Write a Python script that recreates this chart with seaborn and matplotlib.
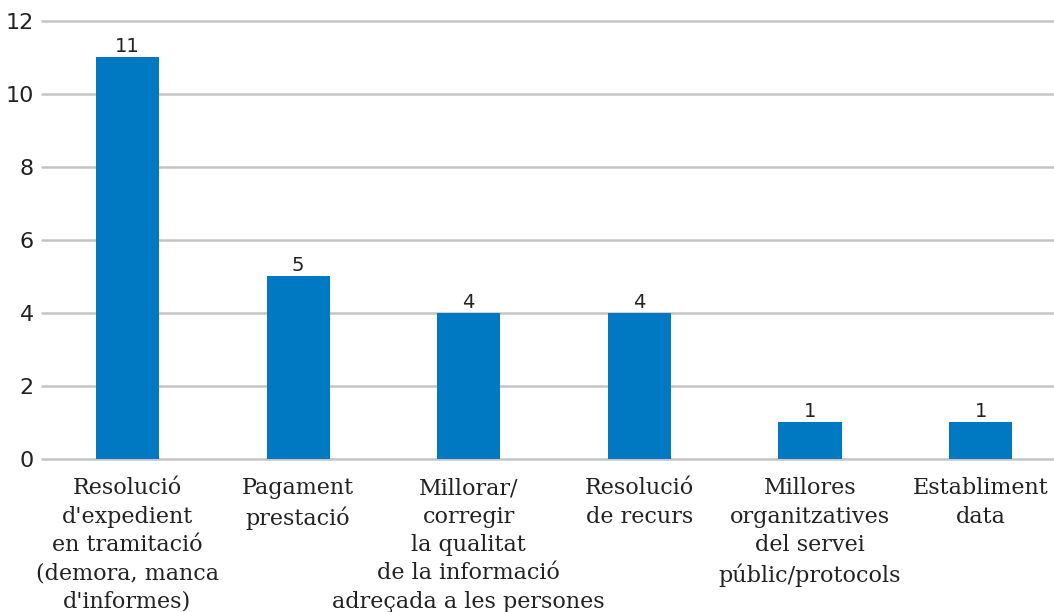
import matplotlib
matplotlib.use('Agg')
import matplotlib.pyplot as plt
import seaborn as sns
import pandas as pd

# dades
categories = [
    "Resolució\nd'expedient\nen tramitació\n(demora, manca\nd'informes)",
    "Pagament\nprestació",
    "Millorar/\ncorregir\nla qualitat\nde la informació\nadreçada a les persones",
    "Resolució\nde recurs",
    "Millores\norganitzatives\ndel servei\npúblic/protocols",
    "Establiment\ndata",
]
values = [11, 5, 4, 4, 1, 1]

df = pd.DataFrame({'categoria': categories, 'valor': values})

sns.set_style('white')
plt.rcParams['font.family'] = ['DejaVu Sans']

fig = plt.figure(figsize=(10.54, 6.12), dpi=100)
ax = fig.add_axes([0.04, 0.25, 0.96, 0.7157])

sns.barplot(data=df, x='categoria', y='valor', color='#0079c2', width=0.37,
            saturation=1, linewidth=0, ax=ax, zorder=3)

ax.set_ylim(0, 12)
ax.set_xlim(-0.5, 5.43)
ax.set_yticks(range(0, 13, 2))
ax.yaxis.grid(True, color='#c4c4c4', linewidth=1.8, zorder=0)
for gl in ax.yaxis.get_gridlines():
    gl.set_clip_on(False)
ax.set_axisbelow(True)
for s in ax.spines.values():
    s.set_visible(False)
ax.set_xlabel('')
ax.set_ylabel('')
ax.tick_params(axis='y', length=0, pad=6, labelsize=16, labelcolor='#222222')
ax.tick_params(axis='x', length=0, pad=13)
for lab in ax.get_xticklabels():
    lab.set_fontfamily('DejaVu Serif')
    lab.set_fontsize(16)
    lab.set_linespacing(1.38)
    lab.set_color('#222222')
    lab.set_verticalalignment('top')
    lab.set_horizontalalignment('center')

for i, v in enumerate(values):
    ax.text(i, v + 0.03, str(v), ha='center', va='bottom', fontsize=14,
            family='DejaVu Sans', color='#222222')

fig.savefig('out.png', dpi=100)
